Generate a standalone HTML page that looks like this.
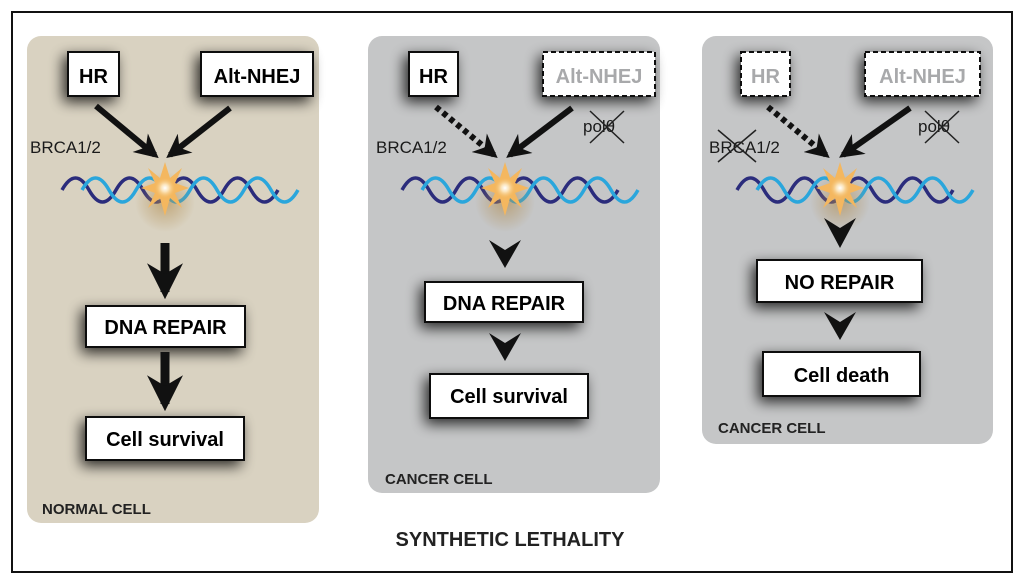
<!DOCTYPE html>
<html><head><meta charset="utf-8"><style>
html,body{margin:0;padding:0;background:#fff}
svg{display:block}
text{font-family:"Liberation Sans",sans-serif}
.b{font-weight:bold}
</style></head><body>
<svg width="1024" height="582" viewBox="0 0 1024 582" xmlns="http://www.w3.org/2000/svg">
<defs>
<filter id="sh" x="-40%" y="-40%" width="180%" height="180%"><feGaussianBlur in="SourceAlpha" stdDeviation="7"/><feOffset dx="-4" dy="5"/><feComponentTransfer><feFuncA type="linear" slope="0.8"/></feComponentTransfer><feMerge><feMergeNode/><feMergeNode in="SourceGraphic"/></feMerge></filter>
<radialGradient id="glow"><stop offset="0" stop-color="#fff"/><stop offset="0.35" stop-color="#fbe3b8"/><stop offset="1" stop-color="#f2b557" stop-opacity="0"/></radialGradient>
<radialGradient id="glow2"><stop offset="0" stop-color="#b08a4a" stop-opacity="0.6"/><stop offset="1" stop-color="#b08a4a" stop-opacity="0"/></radialGradient>
<marker id="ah" viewBox="0 0 10 10" refX="8" refY="5" markerWidth="4" markerHeight="4" orient="auto"><path d="M0,0 L10,5 L0,10 L3,5z" fill="#111"/></marker>
<g id="dna">
<path d="M0,10 q13.5,-24 27,0 t27,0 t27,0 t27,0 t27,0 t27,0 t27,0 t27,0" fill="none" stroke="#2b2c7c" stroke-width="3.5"/>
<path d="M20,10 q13.5,-24 27,0 t27,0 t27,0 t27,0 t27,0 t27,0 t27,0 t27,0" fill="none" stroke="#2aa6dc" stroke-width="3.5"/>
</g>
<g id="star">
<circle r="30" fill="url(#glow2)" cy="14"/>
<polygon points="0,-26 5,-10 17,-20 10,-5 24,0 10,5 17,20 5,10 0,28 -5,10 -17,20 -10,5 -24,0 -10,-5 -17,-20 -5,-10" fill="#f4b75f"/>
<circle r="11" fill="url(#glow)"/>
</g>
</defs>
<rect x="12" y="12" width="1000" height="560" fill="#fff" stroke="#111" stroke-width="2"/>

<!-- Panel 1 -->
<rect x="27" y="36" width="292" height="487" rx="14" fill="#d9d2c1"/>
<g filter="url(#sh)">
<rect x="68" y="52" width="51" height="44" fill="#fff" stroke="#111" stroke-width="2"/>
<rect x="201" y="52" width="112" height="44" fill="#fff" stroke="#111" stroke-width="2"/>
<rect x="86" y="306" width="159" height="41" fill="#fff" stroke="#111" stroke-width="2"/>
<rect x="86" y="417" width="158" height="43" fill="#fff" stroke="#111" stroke-width="2"/>
</g>
<text x="93.5" y="83" text-anchor="middle" class="b" font-size="20">HR</text>
<text x="257" y="83" text-anchor="middle" class="b" font-size="20">Alt-NHEJ</text>
<text x="165.5" y="334" text-anchor="middle" class="b" font-size="20">DNA REPAIR</text>
<text x="165" y="446" text-anchor="middle" class="b" font-size="20">Cell survival</text>
<text x="30" y="153" font-size="17" fill="#1a1a1a">BRCA1/2</text>
<line x1="96" y1="106" x2="155" y2="155" stroke="#111" stroke-width="6" marker-end="url(#ah)"/>
<line x1="230" y1="108" x2="170" y2="155" stroke="#111" stroke-width="6" marker-end="url(#ah)"/>
<use href="#dna" x="62" y="180"/>
<use href="#star" x="165" y="188"/>
<line x1="165" y1="243" x2="165" y2="292" stroke="#111" stroke-width="9" marker-end="url(#ah)"/>
<line x1="165" y1="352" x2="165" y2="404" stroke="#111" stroke-width="9" marker-end="url(#ah)"/>
<text x="42" y="514" class="b" font-size="15" fill="#222">NORMAL CELL</text>

<!-- Panel 2 -->
<rect x="368" y="36" width="292" height="457" rx="14" fill="#c5c6c7"/>
<g filter="url(#sh)">
<rect x="409" y="52" width="49" height="44" fill="#fff" stroke="#111" stroke-width="2"/>
<rect x="543" y="52" width="112" height="44" fill="#fff" stroke="#111" stroke-width="2" stroke-dasharray="5,3"/>
<rect x="425" y="282" width="158" height="40" fill="#fff" stroke="#111" stroke-width="2"/>
<rect x="430" y="374" width="158" height="44" fill="#fff" stroke="#111" stroke-width="2"/>
</g>
<text x="433.5" y="83" text-anchor="middle" class="b" font-size="20">HR</text>
<text x="599" y="83" text-anchor="middle" class="b" font-size="20" fill="#a8a9ab">Alt-NHEJ</text>
<text x="504" y="310" text-anchor="middle" class="b" font-size="20">DNA REPAIR</text>
<text x="509" y="403" text-anchor="middle" class="b" font-size="20">Cell survival</text>
<text x="376" y="153" font-size="17" fill="#1a1a1a">BRCA1/2</text>
<text x="583" y="132" font-size="17" fill="#1a1a1a">polθ</text>
<path d="M590,111 L624,143 M624,111 L590,143" stroke="#222" stroke-width="1.5"/>
<line x1="436" y1="107" x2="494" y2="155" stroke="#111" stroke-width="6" stroke-dasharray="5,4" marker-end="url(#ah)"/>
<line x1="572" y1="108" x2="510" y2="155" stroke="#111" stroke-width="6" marker-end="url(#ah)"/>
<use href="#dna" x="402" y="180"/>
<use href="#star" x="505" y="188"/>
<path d="M489,240 L505,250 L521,240 L505,268z" fill="#111"/>
<path d="M489,333 L505,343 L521,333 L505,361z" fill="#111"/>
<text x="385" y="484" class="b" font-size="15" fill="#222">CANCER CELL</text>

<!-- Panel 3 -->
<rect x="702" y="36" width="291" height="408" rx="14" fill="#c5c6c7"/>
<g filter="url(#sh)">
<rect x="741" y="52" width="49" height="44" fill="#fff" stroke="#111" stroke-width="2" stroke-dasharray="5,3"/>
<rect x="865" y="52" width="115" height="44" fill="#fff" stroke="#111" stroke-width="2" stroke-dasharray="5,3"/>
<rect x="757" y="260" width="165" height="42" fill="#fff" stroke="#111" stroke-width="2"/>
<rect x="763" y="352" width="157" height="44" fill="#fff" stroke="#111" stroke-width="2"/>
</g>
<text x="765.5" y="83" text-anchor="middle" class="b" font-size="20" fill="#a8a9ab">HR</text>
<text x="922.5" y="83" text-anchor="middle" class="b" font-size="20" fill="#a8a9ab">Alt-NHEJ</text>
<text x="839.5" y="289" text-anchor="middle" class="b" font-size="20">NO REPAIR</text>
<text x="841.5" y="382" text-anchor="middle" class="b" font-size="20">Cell death</text>
<text x="709" y="153" font-size="17" fill="#1a1a1a">BRCA1/2</text>
<path d="M718,130 L756,162 M756,130 L718,162" stroke="#222" stroke-width="1.5"/>
<text x="918" y="132" font-size="17" fill="#1a1a1a">polθ</text>
<path d="M925,111 L959,143 M959,111 L925,143" stroke="#222" stroke-width="1.5"/>
<line x1="768" y1="107" x2="826" y2="155" stroke="#111" stroke-width="6" stroke-dasharray="5,4" marker-end="url(#ah)"/>
<line x1="910" y1="108" x2="843" y2="155" stroke="#111" stroke-width="6" marker-end="url(#ah)"/>
<use href="#dna" x="737" y="180"/>
<use href="#star" x="840" y="188"/>
<path d="M824,218 L840,228 L856,218 L840,248z" fill="#111"/>
<path d="M824,312 L840,322 L856,312 L840,340z" fill="#111"/>
<text x="718" y="433" class="b" font-size="15" fill="#222">CANCER CELL</text>

<text x="510" y="546" text-anchor="middle" class="b" font-size="20" fill="#222">SYNTHETIC LETHALITY</text>
</svg>
</body></html>
